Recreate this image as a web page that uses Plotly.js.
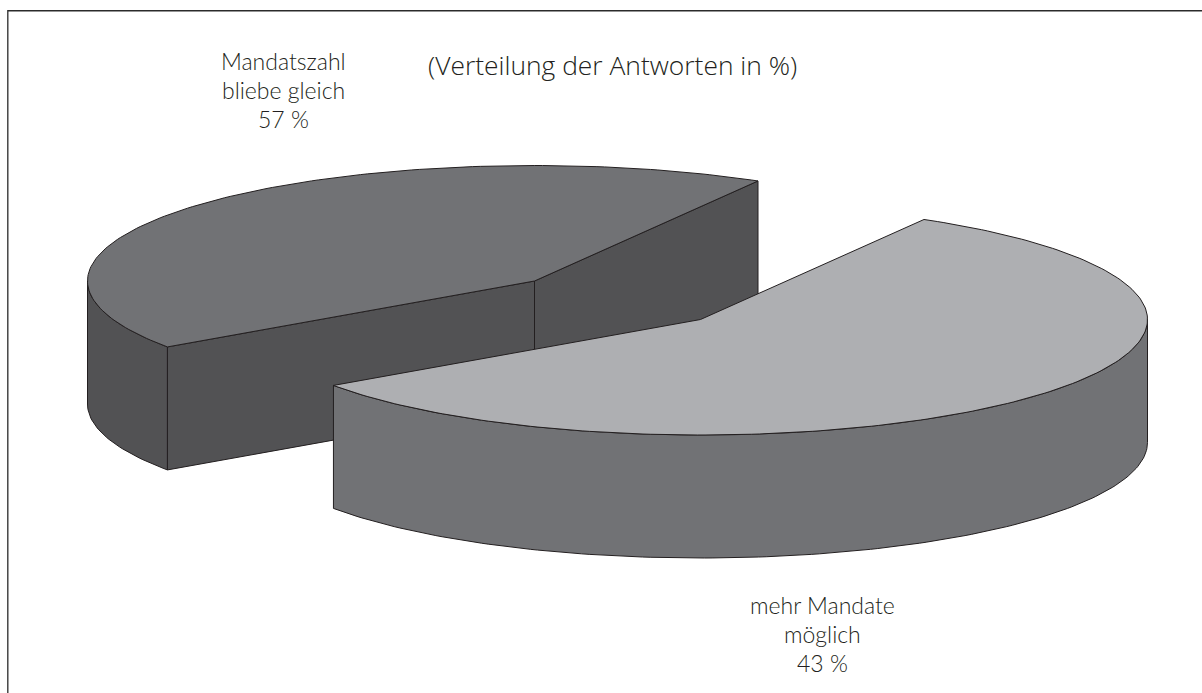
<!DOCTYPE html>
<html>
<head>
<meta charset="utf-8">
<script src="https://cdn.plot.ly/plotly-3.0.1.min.js"></script>
<style>html,body{margin:0;padding:0;background:#fff;overflow:hidden}</style>
</head>
<body>
<div id="chart" style="width:1202px;height:693px"></div>
<script>
// Data
const sliceNames = [["Mandatszahl", "bliebe gleich"], ["mehr Mandate", "möglich"]];
const printedPercent = [57, 43];
// Angular share each slice actually occupies in the reference drawing
const drawnShare = [43, 57];
const chartNote = "(Verteilung der Antworten in %)";

// Pie geometry and styling (in axis units, which equal pixels here)
const startAngle = 60;
const radiusX = 447, radiusY = 115.5, depth = 123;
const centers = [[534.5, 281], [700.5, 319.5]];
const topColors = ["#717275", "#aeafb2"];
const sideColors = ["#525254", "#717275"];
const outline = "#231f20";
const textColor = "#231f20";
const labelFont = {family: "Lato, sans-serif", size: 23, weight: 300, color: textColor};
const noteFont = {family: "'Open Sans', sans-serif", size: 26.4, weight: 300, color: textColor};
const labelX = [283, 822];
const labelY = [[61, 90, 119], [605, 634, 663]];

const rad = d => d * Math.PI / 180;
function rim(c, a0, a1, dy) {
  const xs = [], ys = [];
  const n = Math.max(1, Math.ceil(Math.abs(a1 - a0)));
  for (let i = 0; i <= n; i++) {
    const t = rad(a0 + (a1 - a0) * i / n);
    xs.push(c[0] + radiusX * Math.cos(t));
    ys.push(c[1] - radiusY * Math.sin(t) + dy);
  }
  return [xs, ys];
}
function poly(xs, ys, fill, name) {
  return {
    type: "scatter", mode: "lines", x: xs.concat(xs[0]), y: ys.concat(ys[0]),
    fill: "toself", fillcolor: fill, line: {color: outline, width: 1},
    hoverinfo: "skip", showlegend: false, name: name
  };
}
function wall(c, a0, a1, fill, name) {
  const [tx, ty] = rim(c, a0, a1, 0);
  const [bx, by] = rim(c, a1, a0, depth);
  return poly(tx.concat(bx), ty.concat(by), fill, name);
}
function cutFace(c, a, fill, name) {
  const [rx, ry] = rim(c, a, a, 0);
  const p = [rx[0], c[0], c[0], rx[0]];
  const q = [ry[0], c[1], c[1] + depth, ry[0] + depth];
  return poly(p, q, fill, name);
}
function topFace(c, a0, a1, fill, name) {
  const [tx, ty] = rim(c, a0, a1, 0);
  return poly([c[0]].concat(tx), [c[1]].concat(ty), fill, name);
}

const total = drawnShare[0] + drawnShare[1];
const split = startAngle + 360 * drawnShare[0] / total;
const end = startAngle + 360;

const traces = [
  // back slice
  wall(centers[0], 180, split, sideColors[0], "wall 0"),
  cutFace(centers[0], startAngle, sideColors[0], "cut 0a"),
  cutFace(centers[0], split, sideColors[0], "cut 0b"),
  topFace(centers[0], startAngle, split, topColors[0], sliceNames[0].join(" ")),
  // front slice
  wall(centers[1], split, 360, sideColors[1], "wall 1"),
  topFace(centers[1], split, end, topColors[1], sliceNames[1].join(" "))
];

function textAt(text, x, y, font) {
  return {text: text, x: x, y: y, xref: "x", yref: "y", showarrow: false,
          xanchor: "center", yanchor: "middle", font: font};
}
const annotations = [textAt(chartNote, 612, 65, noteFont)];
sliceNames.forEach((lines, i) => {
  lines.concat(printedPercent[i] + " %").forEach((line, j) => {
    annotations.push(textAt(line, labelX[i], labelY[i][j], labelFont));
  });
});

const layout = {
  width: 1202, height: 693,
  margin: {l: 0, r: 0, t: 0, b: 0},
  paper_bgcolor: "#fff", plot_bgcolor: "#fff",
  xaxis: {range: [0, 1202], visible: false, fixedrange: true},
  yaxis: {range: [693, 0], visible: false, fixedrange: true},
  annotations: annotations,
  shapes: [{type: "path", xref: "paper", yref: "paper",
            path: "M 0.0065 0 L 0.0065 0.9845 L 1 0.9845",
            line: {color: "#2b2b2b", width: 1.3}}]
};
Plotly.newPlot("chart", traces, layout, {displayModeBar: false, staticPlot: true});
</script>
</body>
</html>
